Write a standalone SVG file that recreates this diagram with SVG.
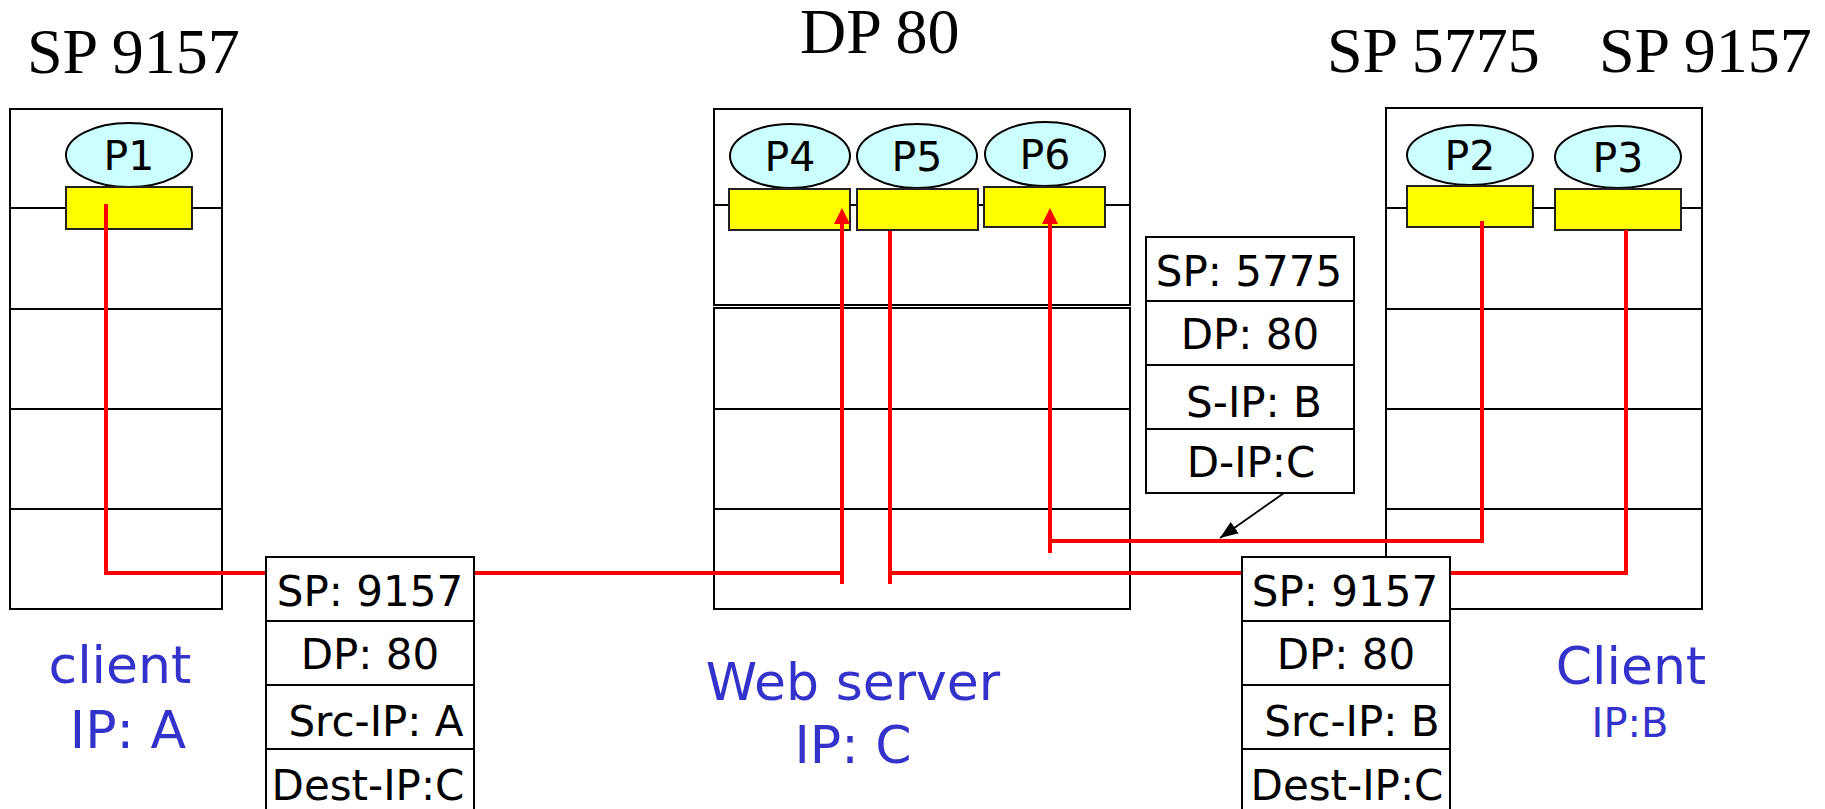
<svg xmlns="http://www.w3.org/2000/svg" width="1825" height="809" viewBox="0 0 1825 809">
<defs>
<style>
.box{fill:#fff;stroke:#000;stroke-width:2}
.ln{stroke:#000;stroke-width:2;fill:none}
.proc{fill:#ccffff;stroke:#000;stroke-width:2}
.sock{fill:#ffff00;stroke:#222;stroke-width:2}
.red{stroke:#ff0000;stroke-width:4;fill:none}
.rhead{fill:#ff0000}
.ptxt{font-family:"DejaVu Sans",sans-serif;font-size:41px;fill:#000}
.pkt{font-family:"DejaVu Sans",sans-serif;font-size:42px;fill:#000}
.title{font-family:"Liberation Serif",serif;font-size:64px;fill:#000}
.lbl{font-family:"DejaVu Sans",sans-serif;font-size:52px;fill:#3333cc}
</style>
<marker id="ba" markerUnits="userSpaceOnUse" markerWidth="18" markerHeight="14" viewBox="0 0 18 14" refX="18" refY="7" orient="auto">
<path d="M0,0 L18,7 L0,14 Z" fill="#000"/>
</marker>
</defs>
<rect width="1825" height="809" fill="#fff"/>

<g id="titles">
<text class="title" x="27" y="73">SP 9157</text>
<text class="title" x="800" y="53">DP 80</text>
<text class="title" x="1327" y="72">SP 5775</text>
<text class="title" x="1599" y="72">SP 9157</text>
</g>

<g id="hostA">
<rect class="box" x="10" y="109" width="212" height="500"/>
<line class="ln" x1="10" y1="208" x2="222" y2="208"/>
<line class="ln" x1="10" y1="309" x2="222" y2="309"/>
<line class="ln" x1="10" y1="409" x2="222" y2="409"/>
<line class="ln" x1="10" y1="509" x2="222" y2="509"/>
<ellipse class="proc" cx="129" cy="155" rx="63" ry="32"/>
<text class="ptxt" x="129" y="170" text-anchor="middle">P1</text>
<rect class="sock" x="66" y="187" width="126" height="42"/>
</g>

<g id="server">
<rect class="box" x="714" y="109" width="416" height="196"/>
<rect class="box" x="714" y="308" width="416" height="301"/>
<line class="ln" x1="714" y1="205" x2="1130" y2="205"/>
<line class="ln" x1="714" y1="409" x2="1130" y2="409"/>
<line class="ln" x1="714" y1="509" x2="1130" y2="509"/>
<ellipse class="proc" cx="790" cy="156" rx="60" ry="32"/>
<text class="ptxt" x="790" y="171" text-anchor="middle">P4</text>
<ellipse class="proc" cx="917" cy="156" rx="60" ry="32"/>
<text class="ptxt" x="917" y="171" text-anchor="middle">P5</text>
<ellipse class="proc" cx="1045" cy="154" rx="60" ry="32"/>
<text class="ptxt" x="1045" y="169" text-anchor="middle">P6</text>
<rect class="sock" x="729" y="189" width="121" height="41"/>
<rect class="sock" x="857" y="189" width="121" height="41"/>
<rect class="sock" x="984" y="187" width="121" height="40"/>
</g>

<g id="hostB">
<rect class="box" x="1386" y="108" width="316" height="501"/>
<line class="ln" x1="1386" y1="208" x2="1702" y2="208"/>
<line class="ln" x1="1386" y1="309" x2="1702" y2="309"/>
<line class="ln" x1="1386" y1="409" x2="1702" y2="409"/>
<line class="ln" x1="1386" y1="509" x2="1702" y2="509"/>
<ellipse class="proc" cx="1470" cy="155" rx="63" ry="30"/>
<text class="ptxt" x="1470" y="170" text-anchor="middle">P2</text>
<ellipse class="proc" cx="1618" cy="157" rx="63" ry="31"/>
<text class="ptxt" x="1618" y="172" text-anchor="middle">P3</text>
<rect class="sock" x="1407" y="186" width="126" height="41"/>
<rect class="sock" x="1555" y="189" width="126" height="41"/>
</g>

<g id="connectors">
<path class="red" d="M106,204 V573 H842"/>
<path class="red" d="M842,584 V220"/>
<polygon class="rhead" points="842,208 834,224 850,224"/>
<path class="red" d="M890,231 V584"/>
<path class="red" d="M890,573 H1626 V230"/>
<path class="red" d="M1482,221 V541 H1050"/>
<path class="red" d="M1050,553 V220"/>
<polygon class="rhead" points="1050,208 1042,224 1058,224"/>
<line x1="1284" y1="493" x2="1220" y2="538" stroke="#000" stroke-width="1.8" marker-end="url(#ba)"/>
</g>

<g id="packetA">
<rect class="box" x="266" y="557" width="208" height="256"/>
<line class="ln" x1="266" y1="621" x2="474" y2="621"/>
<line class="ln" x1="266" y1="685" x2="474" y2="685"/>
<line class="ln" x1="266" y1="749" x2="474" y2="749"/>
<text class="pkt" x="370" y="606" text-anchor="middle">SP: 9157</text>
<text class="pkt" x="370" y="669" text-anchor="middle">DP: 80</text>
<text class="pkt" x="376" y="736" text-anchor="middle">Src-IP: A</text>
<text class="pkt" x="368" y="800" text-anchor="middle">Dest-IP:C</text>
</g>

<g id="packetB">
<rect class="box" x="1146" y="237" width="208" height="256"/>
<line class="ln" x1="1146" y1="301" x2="1354" y2="301"/>
<line class="ln" x1="1146" y1="365" x2="1354" y2="365"/>
<line class="ln" x1="1146" y1="429" x2="1354" y2="429"/>
<text class="pkt" x="1249" y="286" text-anchor="middle">SP: 5775</text>
<text class="pkt" x="1250" y="349" text-anchor="middle">DP: 80</text>
<text class="pkt" x="1254" y="417" text-anchor="middle">S-IP: B</text>
<text class="pkt" x="1251" y="477" text-anchor="middle">D-IP:C</text>
</g>

<g id="packetC">
<rect class="box" x="1242" y="557" width="208" height="256"/>
<line class="ln" x1="1242" y1="621" x2="1450" y2="621"/>
<line class="ln" x1="1242" y1="685" x2="1450" y2="685"/>
<line class="ln" x1="1242" y1="749" x2="1450" y2="749"/>
<text class="pkt" x="1345" y="606" text-anchor="middle">SP: 9157</text>
<text class="pkt" x="1346" y="669" text-anchor="middle">DP: 80</text>
<text class="pkt" x="1352" y="736" text-anchor="middle">Src-IP: B</text>
<text class="pkt" x="1347" y="800" text-anchor="middle">Dest-IP:C</text>
</g>

<g id="labels">
<text class="lbl" x="120" y="683" text-anchor="middle">client</text>
<text class="lbl" x="128" y="748" text-anchor="middle">IP: A</text>
<text class="lbl" x="853" y="700" text-anchor="middle">Web server</text>
<text class="lbl" x="853" y="763" text-anchor="middle">IP: C</text>
<text class="lbl" x="1631" y="684" text-anchor="middle">Client</text>
<text class="lbl" x="1630" y="737" text-anchor="middle" style="font-size:40px">IP:B</text>
</g>
</svg>
